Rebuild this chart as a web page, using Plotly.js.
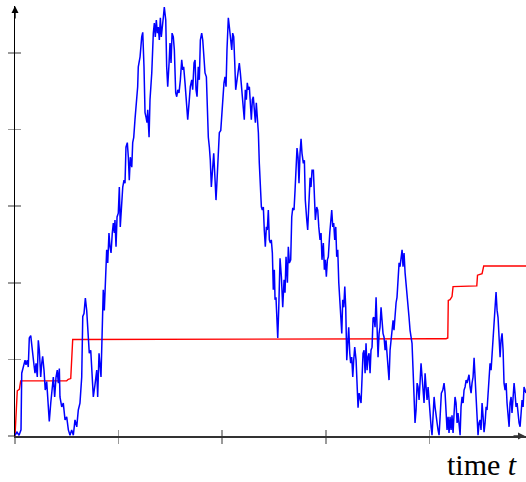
<!DOCTYPE html>
<html>
<head>
<meta charset="utf-8">
<script src="https://cdn.plot.ly/plotly-3.0.1.min.js"></script>
<style>
  html, body { margin: 0; padding: 0; background: #fff; }
  #chart { width: 526px; height: 482px; }
</style>
</head>
<body>
<div id="chart"></div>
<script>
// Sample path (blue) and its accumulated level (red), time on the horizontal axis.
const blueT = [
  0, 0.019, 0.039, 0.058, 0.065, 0.097, 0.106, 0.119, 0.128, 0.138, 0.152, 0.161, 0.171, 0.183, 0.193, 0.203,
  0.215, 0.225, 0.235, 0.248, 0.258, 0.267, 0.280, 0.292, 0.306, 0.319, 0.331, 0.345, 0.357, 0.370, 0.383, 0.396,
  0.408, 0.418, 0.428, 0.434, 0.451, 0.466, 0.483, 0.499, 0.515, 0.531, 0.547, 0.563, 0.579, 0.596, 0.611, 0.627,
  0.644, 0.654, 0.666, 0.679, 0.692, 0.705, 0.717, 0.731, 0.743, 0.756, 0.772, 0.789, 0.798, 0.811, 0.830, 0.843,
  0.852, 0.862, 0.876, 0.885, 0.895, 0.907, 0.917, 0.927, 0.939, 0.949, 0.959, 0.965, 0.975, 0.985, 0.997, 1.007,
  1.016, 1.030, 1.040, 1.052, 1.062, 1.071, 1.084, 1.094, 1.103, 1.113, 1.127, 1.136, 1.146, 1.158, 1.171, 1.184,
  1.190, 1.207, 1.223, 1.233, 1.245, 1.255, 1.265, 1.274, 1.281, 1.294, 1.303, 1.320, 1.335, 1.345, 1.354, 1.364,
  1.374, 1.383, 1.393, 1.403, 1.412, 1.422, 1.432, 1.441, 1.455, 1.464, 1.474, 1.487, 1.496, 1.506, 1.516, 1.528,
  1.538, 1.551, 1.561, 1.571, 1.583, 1.596, 1.609, 1.619, 1.628, 1.641, 1.658, 1.667, 1.680, 1.692, 1.706, 1.715,
  1.728, 1.738, 1.747, 1.757, 1.769, 1.779, 1.789, 1.802, 1.812, 1.822, 1.834, 1.847, 1.856, 1.866, 1.876, 1.885,
  1.895, 1.905, 1.918, 1.931, 1.940, 1.950, 1.962, 1.972, 1.986, 1.995, 2.005, 2.017, 2.027, 2.037, 2.046, 2.059,
  2.069, 2.078, 2.092, 2.101, 2.111, 2.121, 2.130, 2.143, 2.155, 2.165, 2.175, 2.184, 2.194, 2.204, 2.213, 2.223,
  2.233, 2.242, 2.252, 2.262, 2.271, 2.281, 2.291, 2.300, 2.310, 2.320, 2.329, 2.339, 2.349, 2.358, 2.368, 2.378,
  2.387, 2.397, 2.406, 2.416, 2.426, 2.435, 2.445, 2.455, 2.465, 2.474, 2.484, 2.493, 2.503, 2.510, 2.519, 2.526,
  2.536, 2.546, 2.558, 2.571, 2.584, 2.597, 2.606, 2.616, 2.629, 2.638, 2.648, 2.661, 2.671, 2.681, 2.693, 2.703,
  2.713, 2.722, 2.732, 2.741, 2.751, 2.761, 2.770, 2.783, 2.793, 2.802, 2.816, 2.825, 2.835, 2.848, 2.857, 2.867,
  2.880, 2.889, 2.899, 2.912, 2.922, 2.932, 2.944, 2.954, 2.963, 2.976, 2.986, 2.995, 3.005, 3.015, 3.024, 3.038,
  3.047, 3.057, 3.067, 3.076, 3.086, 3.096, 3.105, 3.115, 3.125, 3.134, 3.144, 3.154, 3.163, 3.173, 3.183, 3.192,
  3.202, 3.211, 3.221, 3.231, 3.240, 3.250, 3.260, 3.269, 3.279, 3.292, 3.301, 3.311, 3.321, 3.330, 3.340, 3.350,
  3.359, 3.369, 3.379, 3.388, 3.398, 3.407, 3.417, 3.427, 3.436, 3.446, 3.456, 3.465, 3.475, 3.485, 3.494, 3.504,
  3.514, 3.523, 3.533, 3.543, 3.552, 3.562, 3.572, 3.581, 3.591, 3.600, 3.610, 3.620, 3.629, 3.639, 3.649, 3.658,
  3.668, 3.678, 3.687, 3.697, 3.707, 3.716, 3.726, 3.736, 3.745, 3.755, 3.765, 3.774, 3.784, 3.794, 3.803, 3.813,
  3.823, 3.832, 3.842, 3.852, 3.861, 3.871, 3.881, 3.890, 3.900, 3.909, 3.919, 3.929, 3.938, 3.948, 3.958, 3.967,
  3.977, 3.987, 3.996, 4.006, 4.016, 4.025, 4.035, 4.045, 4.054, 4.064, 4.074, 4.083, 4.093, 4.103, 4.115, 4.129,
  4.141, 4.151, 4.160, 4.170, 4.180, 4.189, 4.199, 4.209, 4.218, 4.228, 4.238, 4.247, 4.257, 4.267, 4.276, 4.286,
  4.296, 4.305, 4.315, 4.325, 4.334, 4.344, 4.354, 4.363, 4.373, 4.382, 4.392, 4.402, 4.411, 4.421, 4.431, 4.440,
  4.450, 4.460, 4.469, 4.479, 4.489, 4.498, 4.508, 4.518, 4.527, 4.537, 4.547, 4.556, 4.566, 4.576, 4.585, 4.595,
  4.605, 4.614, 4.624, 4.634, 4.643, 4.653, 4.662, 4.672, 4.682, 4.691, 4.701, 4.711, 4.720, 4.730, 4.740, 4.749,
  4.759, 4.769, 4.778, 4.788, 4.797, 4.807, 4.817, 4.826, 4.836, 4.846, 4.855, 4.865, 4.875, 4.884, 4.894, 4.904,
  4.913, 4.932
];
const blueY = [
  0.01, 0.05, 0.01, 0.08, 0.82, 0.99, 0.93, 0.99, 0.90, 1.28, 1.31, 1.17, 1.12, 0.93, 0.82, 0.95,
  0.77, 1.25, 1.12, 0.77, 0.95, 1.04, 0.86, 0.60, 0.71, 0.43, 0.19, 0.43, 0.60, 0.77, 0.51, 0.77,
  0.86, 0.69, 0.88, 0.51, 0.38, 0.43, 0.21, 0.25, 0.08, 0.01, 0.08, 0.01, 0.21, 0.12, 0.34, 0.43,
  0.77, 1.56, 1.60, 1.80, 1.64, 1.38, 1.08, 1.12, 0.82, 0.51, 0.67, 0.86, 0.51, 1.08, 0.77, 1.34,
  1.91, 1.64, 2.08, 2.43, 2.26, 2.65, 2.47, 2.39, 2.65, 2.78, 2.65, 2.82, 2.47, 2.86, 2.91, 3.25,
  2.73, 3.08, 3.25, 3.34, 3.30, 3.77, 3.83, 3.64, 3.34, 3.64, 3.51, 3.83, 3.90, 4.13, 4.35, 4.56,
  4.82, 4.95, 5.21, 5.27, 4.82, 4.22, 4.16, 4.09, 4.26, 3.90, 4.39, 4.74, 5.26, 5.39, 5.21, 5.43,
  5.26, 5.34, 5.17, 5.46, 5.21, 5.39, 5.47, 5.60, 5.43, 4.82, 4.56, 4.87, 5.13, 4.87, 5.26, 5.21,
  5.04, 4.48, 4.43, 4.52, 4.48, 4.65, 4.91, 4.78, 4.82, 4.61, 4.26, 4.13, 4.35, 4.56, 4.65, 4.52,
  4.87, 4.91, 4.52, 4.43, 4.82, 4.65, 5.17, 5.26, 5.17, 4.95, 4.74, 4.69, 4.30, 3.90, 3.77, 3.60,
  3.25, 3.51, 3.69, 3.34, 3.08, 3.34, 3.69, 3.96, 3.99, 4.22, 4.43, 4.61, 4.69, 4.56, 5.04, 5.46,
  5.34, 5.21, 5.04, 5.26, 5.21, 4.87, 4.52, 4.65, 4.82, 4.87, 4.74, 4.61, 4.43, 4.26, 4.13, 4.52,
  4.39, 4.61, 4.52, 4.56, 4.35, 4.13, 4.39, 4.43, 4.26, 4.09, 4.35, 4.13, 3.96, 3.56, 3.30, 2.99,
  2.95, 2.99, 2.69, 2.47, 2.73, 2.69, 2.95, 2.56, 2.52, 2.56, 2.39, 1.91, 2.17, 1.78, 1.81, 1.61,
  1.28, 1.68, 2.32, 2.08, 1.68, 2.04, 1.87, 2.34, 2.00, 2.47, 2.26, 2.30, 2.86, 2.98, 2.95, 3.21,
  3.51, 3.76, 3.64, 3.30, 3.69, 3.88, 3.69, 3.56, 3.60, 3.08, 2.82, 2.69, 2.99, 3.37, 3.25, 3.47,
  3.47, 3.12, 2.82, 2.99, 2.95, 2.73, 2.56, 2.65, 2.30, 2.52, 2.17, 2.30, 2.08, 2.30, 2.34, 2.65,
  2.78, 2.95, 2.73, 2.78, 2.56, 2.73, 2.34, 2.43, 2.00, 1.74, 1.51, 1.34, 1.78, 1.68, 1.95, 1.68,
  0.99, 1.25, 1.42, 1.08, 0.95, 1.03, 0.77, 0.99, 1.16, 0.99, 0.64, 0.37, 0.56, 0.51, 0.43, 0.77,
  1.08, 1.12, 0.82, 1.21, 0.86, 1.03, 1.08, 0.82, 1.12, 1.16, 1.54, 1.55, 1.42, 1.81, 1.34, 1.03,
  1.34, 1.42, 1.68, 1.48, 1.34, 1.29, 1.12, 1.25, 1.03, 0.95, 0.73, 1.12, 1.25, 1.34, 1.51, 1.38,
  1.64, 1.74, 1.81, 2.04, 2.26, 2.21, 2.30, 2.43, 2.21, 2.39, 2.13, 2.00, 1.91, 1.68, 1.55, 1.38,
  1.29, 1.21, 0.86, 0.43, 0.17, 0.34, 0.69, 0.64, 0.47, 0.69, 0.95, 0.77, 0.60, 0.43, 0.82, 0.64,
  0.47, 0.64, 0.43, 0.34, 0.12, 0.01, 0.25, 0.51, 0.38, 0.30, 0.17, 0.08, 0.01, 0.25, 0.56, 0.60,
  0.69, 0.56, 0.25, 0.08, 0.25, 0.04, 0.25, 0.08, 0.27, 0.04, 0.30, 0.51, 0.43, 0.17, 0.30, 0.17,
  0.01, 0.38, 0.51, 0.43, 0.60, 0.64, 0.73, 0.69, 0.77, 0.80, 0.64, 0.56, 0.69, 0.77, 1.02, 0.77,
  0.51, 0.21, 0.01, 0.17, 0.21, 0.08, 0.43, 0.25, 0.05, 0.17, 0.38, 0.34, 0.56, 0.73, 0.95, 0.86,
  1.08, 1.25, 1.48, 1.81, 1.88, 1.64, 1.55, 1.29, 1.03, 1.25, 1.34, 1.12, 0.69, 0.60, 0.69, 0.43,
  0.21, 0.12, 0.43, 0.51, 0.30, 0.60, 0.69, 0.56, 0.38, 0.43, 0.30, 0.17, 0.12, 0.34, 0.47, 0.38,
  0.64, 0.56
];
const redT = [0, 0.010, 0.022, 0.042, 0.055, 0.499, 0.514, 0.538, 0.557, 4.096, 4.160, 4.177, 4.182,
  4.199, 4.218, 4.228, 4.457, 4.464, 4.508, 4.524, 4.932];
const redY = [0, 0.30, 0.59, 0.61, 0.72, 0.72, 0.74, 0.75, 1.26, 1.27, 1.27, 1.28, 1.77,
  1.78, 1.82, 1.95, 1.96, 2.10, 2.12, 2.22, 2.22];

const xTicks = [0, 1, 2, 3, 4];
const yTicks = [0, 1, 2, 3, 4, 5];
const xLabel = 'time <i>t</i>';

const xRange = [0, 4.932];
const yRange = [0, 5.614];
const tickGrey = '#9a9a9a';

const traces = [
  { x: redT, y: redY, type: 'scatter', mode: 'lines', hoverinfo: 'skip',
    line: { color: '#ff0000', width: 1.4 } },
  { x: blueT, y: blueY, type: 'scatter', mode: 'lines', hoverinfo: 'skip',
    line: { color: '#0000ff', width: 1.5 } },
  // empty trace so the inward tick axes are rendered
  { x: [], y: [], type: 'scatter', mode: 'lines', xaxis: 'x2', yaxis: 'y2', hoverinfo: 'skip' }
];

const baseAxis = {
  showgrid: false, zeroline: false, showticklabels: false, fixedrange: true,
  tickcolor: tickGrey, tickwidth: 1.5, ticklen: 6, tickmode: 'array'
};

const layout = {
  width: 526, height: 482,
  margin: { l: 15, r: 0, t: 6, b: 46, pad: 0 },
  paper_bgcolor: '#ffffff', plot_bgcolor: '#ffffff',
  showlegend: false,
  xaxis: Object.assign({}, baseAxis, {
    range: xRange, tickvals: xTicks, ticks: 'outside',
    showline: true, linecolor: '#333333', linewidth: 1.5
  }),
  yaxis: Object.assign({}, baseAxis, {
    range: yRange, tickvals: yTicks, ticks: 'outside',
    showline: true, linecolor: '#000000', linewidth: 1.4
  }),
  xaxis2: Object.assign({}, baseAxis, {
    range: xRange, tickvals: xTicks, ticks: 'inside', overlaying: 'x', anchor: 'y2', side: 'bottom',
    showline: false
  }),
  yaxis2: Object.assign({}, baseAxis, {
    range: yRange, tickvals: yTicks, ticks: 'inside', overlaying: 'y', anchor: 'x2', side: 'left',
    showline: false
  }),
  annotations: [
    { xref: 'x', yref: 'paper', x: 0, y: 1, ax: 0, ay: 14, text: '', showarrow: true,
      arrowhead: 2, arrowsize: 1, arrowwidth: 1.4, arrowcolor: '#000000' },
    { xref: 'paper', yref: 'y', x: 1, y: 0, ax: -14, ay: 0, text: '', showarrow: true,
      arrowhead: 2, arrowsize: 1, arrowwidth: 1.4, arrowcolor: '#333333' },
    { xref: 'paper', yref: 'paper', x: 0.985, y: -0.066, xanchor: 'right', yanchor: 'middle',
      text: xLabel, showarrow: false, borderpad: 0,
      font: { family: 'Liberation Serif, Times New Roman, serif', size: 30, color: '#000000' } }
  ]
};

Plotly.newPlot('chart', traces, layout, { displayModeBar: false, staticPlot: true });
</script>
</body>
</html>
